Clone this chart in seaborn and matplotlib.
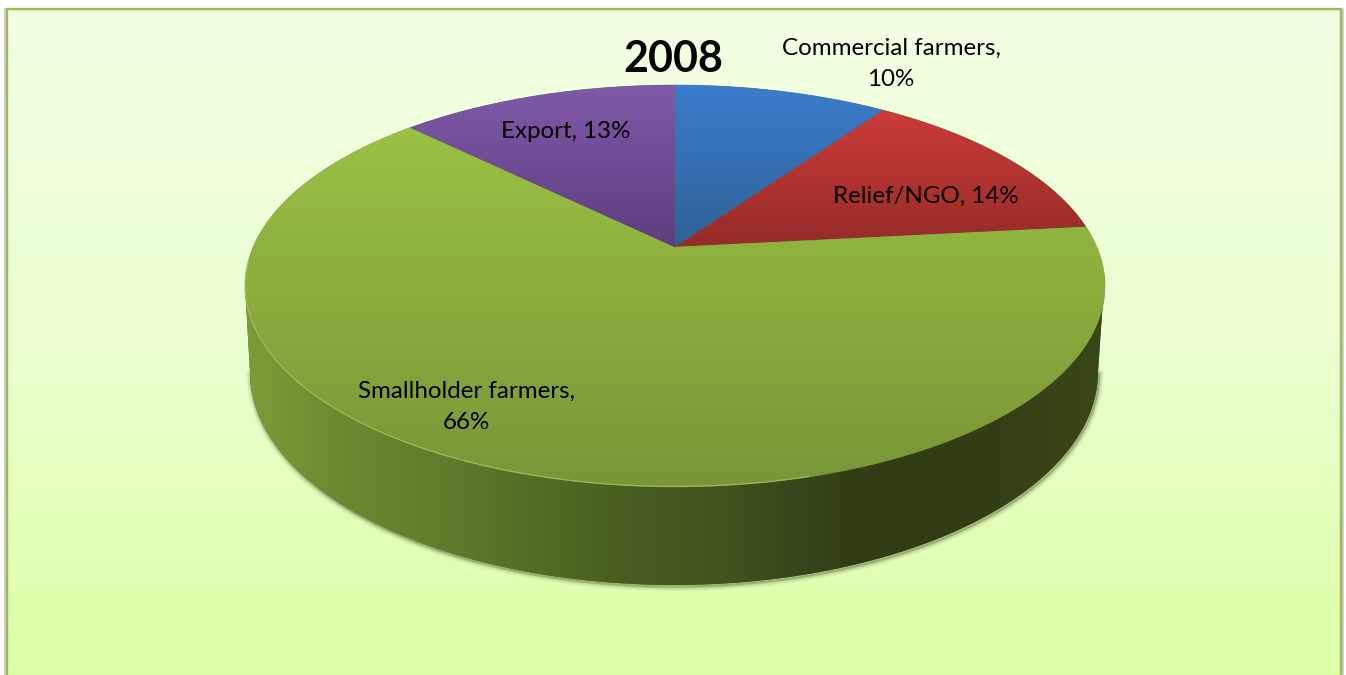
import numpy as np
import matplotlib
matplotlib.use("Agg")
import matplotlib.pyplot as plt
from matplotlib.transforms import Transform
from matplotlib.path import Path
from matplotlib.patches import PathPatch
import seaborn as sns

# Destination of the 2008 supply, in percent
categories = ["Commercial farmers", "Relief/NGO", "Smallholder farmers", "Export"]
shares = [10, 14, 66, 13]
title = "2008"

top_colors = ["#3c7ccd", "#ce3c39", "#9fc646", "#8059a9"]
low_colors = ["#2f6194", "#952b28", "#789637", "#5c3e7d"]
side_stops = ["#7d9d38", "#6c8b31", "#5f7a2c", "#4b6121", "#40521e", "#36441a", "#303c14", "#323d14", "#3a4718"]
bg_stops = ["#f3ffe4", "#ebffd0", "#dcffa6"]
border_color = "#9bbb59"

FIG_W, FIG_H = 1346, 675
CX, CY = 675, 247          # hub of the pie on the canvas
A, B, K = 421.8, 193.4, 0.194


class TiltedDisc(Transform):
    """Project the unit pie on to a disc tilted away from the viewer."""
    input_dims = output_dims = 2
    is_separable = False
    has_inverse = False

    def transform_non_affine(self, values):
        xy = np.asarray(values, dtype=float)
        d = 1 + K * xy[:, 1]
        return np.column_stack([CX + A * xy[:, 0] / d, CY - B * xy[:, 1] / d])

    def transform_path_non_affine(self, path):
        scaled = path.transformed(matplotlib.transforms.Affine2D().scale(2000))
        polys = scaled.to_polygons(closed_only=True)
        verts = np.vstack(polys) / 2000
        return Path(self.transform_non_affine(verts), closed=True)


sns.set_theme(style="white")
plt.rcParams["font.family"] = ["Lato", "DejaVu Sans"]

fig = plt.figure(figsize=(FIG_W / 100, FIG_H / 100), dpi=100, facecolor="white")
ax = fig.add_axes([0, 0, 1, 1])
ax.set_axis_off()

# Panel background with a soft vertical fade
bg = np.array(sns.blend_palette(bg_stops, n_colors=256))[:, None, :]
ax.imshow(bg, extent=(7, 1341, 680, 9), aspect="auto", zorder=0)
ax.plot([5, 5], [9, 680], color="#c4c8c0", lw=1.2, zorder=1)
ax.plot([1343, 1343], [9, 680], color="#c4c8c0", lw=1.2, zorder=1)
ax.plot([7, 7, 1341, 1341], [680, 9, 9, 680], color=border_color, lw=1.7, zorder=2,
        solid_joinstyle="miter")

# Cylinder wall below the disc
LOW_X, LOW_Y, LOW_RX, LOW_RY = 674, 372, 424, 213
t = np.linspace(np.pi, 2 * np.pi, 300)
low_x = LOW_X + LOW_RX * np.cos(t)
low_y = LOW_Y - LOW_RY * np.sin(t)
wall = np.column_stack([np.r_[245, low_x, 1104], np.r_[285, low_y, 285]])

for lw, a in [(7, 0.05), (5, 0.08), (3, 0.14), (1.5, 0.25)]:
    ax.plot(low_x + 1, low_y + 1.5, color="#3c4a20", lw=lw, alpha=a, zorder=3,
            solid_capstyle="round")

wall_patch = PathPatch(Path(wall), facecolor="#4b6121", edgecolor="none", zorder=4)
ax.add_patch(wall_patch)
wall_base = np.array(sns.blend_palette(side_stops, n_colors=256))
stops_x = np.array([245, 330, 450, 600, 730, 810, 880, 960, 1105])
xs = np.linspace(245, 1105, 512)
r = np.interp(xs, stops_x, np.linspace(0, 255, len(stops_x))).astype(int)
kernel = np.ones(31) / 31
wall_row = np.column_stack([
    np.convolve(np.pad(wall_base[r, c], 15, mode="edge"), kernel, mode="valid") for c in range(3)
])
im = ax.imshow(wall_row[None, :, :], extent=(245, 1105, 590, 280), aspect="auto", zorder=5)
im.set_clip_path(wall_patch)

# Disc top: one wedge per category
disc = TiltedDisc() + ax.transData
wedges, _ = ax.pie(shares, startangle=90, counterclock=False, radius=1, center=(0, 0),
                   colors=low_colors)
grad_ranges = [(85, 247), (105, 247), (85, 487), (85, 247)]
for i, wedge in enumerate(wedges):
    wedge.set_transform(disc)
    wedge.set_zorder(6 + i * 0.01)
    wedge.set_edgecolor((0.42, 0.44, 0.30, 0.55))
    wedge.set_linewidth(0.6)
    y0, y1 = grad_ranges[i]
    ramp = np.array(sns.blend_palette([top_colors[i], low_colors[i]], n_colors=256))[:, None, :]
    g = ax.imshow(ramp, extent=(240, 1110, y1, y0), aspect="auto", zorder=6 + i * 0.01 + 0.001)
    g.set_clip_path(wedge)

# Pale highlight along the front-left rim
theta = np.radians(np.linspace(184, 285, 200))
rim = TiltedDisc().transform_non_affine(np.column_stack([np.cos(theta), np.sin(theta)]))
ax.plot(rim[:, 0], rim[:, 1] - 0.5, color="#b4d468", lw=0.9, alpha=0.6, zorder=7)

ax.set_xlim(0, FIG_W)
ax.set_ylim(FIG_H, 0)
ax.set_aspect("auto")

# Category labels
label_xy = [(891, 64), (926, 196), (466, 407), (566, 131)]
label_text = [
    f"{categories[0]},\n{shares[0]}%",
    f"{categories[1]}, {shares[1]}%",
    f"{categories[2]},\n{shares[2]}%",
    f"{categories[3]}, {shares[3]}%",
]
for (x, y), s in zip(label_xy, label_text):
    ax.text(x, y, s, ha="center", va="center", fontsize=17.4, color="black",
            linespacing=1.6, zorder=10, multialignment="center")

ax.text(673.5, 59, title, ha="center", va="center", fontsize=31, fontweight="bold",
        color="black", zorder=10)

fig.savefig("out.png", dpi=100)
